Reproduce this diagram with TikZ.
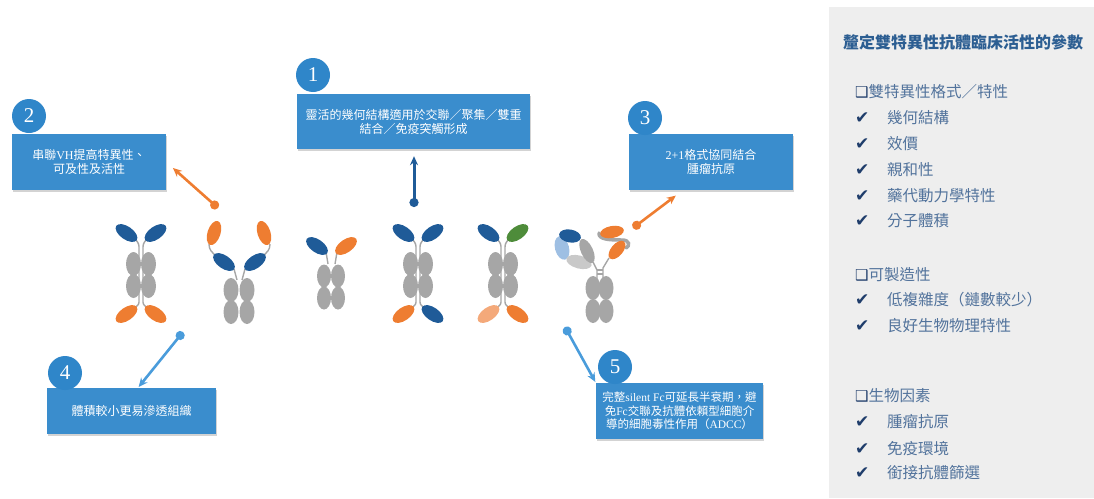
\documentclass[tikz,border=0pt]{standalone}
\usepackage{fontspec}
\setmainfont{Liberation Serif}
\newfontfamily\cjk{Noto Sans CJK TC}
\newfontfamily\sym{DejaVu Sans}
\usetikzlibrary{positioning,arrows.meta,shadows}
\definecolor{boxblue}{HTML}{3A8DCD}
\definecolor{numblue}{HTML}{2F86C9}
\definecolor{abblue}{HTML}{1F5B98}
\definecolor{ablblue}{HTML}{9EBFE3}
\definecolor{aborange}{HTML}{EE7D31}
\definecolor{ablorange}{HTML}{F4A97A}
\definecolor{abgreen}{HTML}{4E8C3A}
\definecolor{abgray}{HTML}{A6A6A6}
\definecolor{ablgray}{HTML}{C9C9C9}
\definecolor{ptrblue}{HTML}{4A9CDB}
\definecolor{panelgray}{HTML}{EEEEEE}
\definecolor{titlecol}{HTML}{2C5E92}
\definecolor{itemcol}{HTML}{52739C}
\definecolor{checkcol}{HTML}{1F3D6B}

\begin{document}
\begin{tikzpicture}[x=1pt,y=1pt,
  infobox/.style={fill=boxblue,text=white,font=\cjk\fontsize{12}{14}\selectfont,align=center,inner sep=0pt,
    drop shadow={shadow xshift=1pt,shadow yshift=-2pt,opacity=0.35}},
  numdot/.style={circle,fill=numblue,text=white,minimum size=34pt,inner sep=0pt,font=\fontsize{21}{21}\selectfont},
  pointer/.style={line width=2.6pt,{Circle[length=9pt]}-{Stealth[length=9pt,width=8pt]}},
  hinge/.style={abgray,line width=1.4pt},
  item/.style={anchor=west,text=itemcol,font=\cjk\fontsize{15.5}{15.5}\selectfont,inner sep=0pt},
  tick/.style={anchor=west,text=checkcol,font=\sym\fontsize{17}{17}\selectfont,inner sep=0pt}]
\useasboundingbox (0,0) rectangle (1094,-498);

% parameter panel
\fill[panelgray] (829,-7) rectangle (1094,-498);

% tandem formats
\foreach \cx/\ca/\cb/\cc/\cd in {141/abblue/abblue/aborange/aborange,418/abblue/abblue/aborange/abblue,503/abblue/abgreen/ablorange/aborange} {
  \draw[hinge] (\cx-5,-240) .. controls (\cx-2,-244) .. (\cx-2,-250) -- (\cx-2,-300) .. controls (\cx-2,-304) .. (\cx-5,-307);
  \draw[hinge] (\cx+5,-240) .. controls (\cx+2,-244) .. (\cx+2,-250) -- (\cx+2,-300) .. controls (\cx+2,-304) .. (\cx+5,-307);
  \fill[\ca,shift={(\cx-14.5,-233)},rotate=-35] (0,0) ellipse (12.5 and 6.5);
  \fill[\cb,shift={(\cx+14.5,-233)},rotate=35] (0,0) ellipse (12.5 and 6.5);
  \fill[abgray] (\cx-7.5,-264) ellipse (7.5 and 12);
  \fill[abgray] (\cx+7.5,-264) ellipse (7.5 and 12);
  \fill[abgray] (\cx-7.5,-286) ellipse (7.5 and 12);
  \fill[abgray] (\cx+7.5,-286) ellipse (7.5 and 12);
  \fill[\cc,shift={(\cx-14.5,-314)},rotate=35] (0,0) ellipse (12.5 and 6.5);
  \fill[\cd,shift={(\cx+14.5,-314)},rotate=-35] (0,0) ellipse (12.5 and 6.5);
}

% tandem VH
\draw[hinge] (209,-244) .. controls (209,-250) and (212,-252) .. (215,-255);
\draw[hinge] (270,-244) .. controls (270,-250) and (267,-252) .. (264,-255);
\draw[hinge] (234,-269) -- (237,-280);
\draw[hinge] (245,-269) -- (242,-280);
\fill[aborange,shift={(214,-233)},rotate=72] (0,0) ellipse (12.5 and 6.5);
\fill[aborange,shift={(264,-233)},rotate=108] (0,0) ellipse (12.5 and 6.5);
\fill[abblue,shift={(224,-262)},rotate=-35] (0,0) ellipse (12.5 and 6.5);
\fill[abblue,shift={(255,-262)},rotate=35] (0,0) ellipse (12.5 and 6.5);
\fill[abgray] (231,-290) ellipse (7.5 and 12);
\fill[abgray] (247,-290) ellipse (7.5 and 12);
\fill[abgray] (231,-312) ellipse (7.5 and 12);
\fill[abgray] (247,-312) ellipse (7.5 and 12);

% small format
\draw[hinge] (326,-252) -- (328,-264);
\draw[hinge] (337,-252) -- (335,-264);
\fill[abblue,shift={(317,-246)},rotate=-35] (0,0) ellipse (12.5 and 6.5);
\fill[aborange,shift={(346,-246)},rotate=35] (0,0) ellipse (12.5 and 6.5);
\fill[abgray] (324,-276) ellipse (7 and 11.5);
\fill[abgray] (338,-276) ellipse (7 and 11.5);
\fill[abgray] (324,-298) ellipse (7 and 11.5);
\fill[abgray] (338,-298) ellipse (7 and 11.5);

% 2+1 format
\draw[hinge] (593,-262) -- (597,-270) -- (597,-280);
\draw[hinge] (609,-258) -- (603,-268) -- (603,-280);
\draw[hinge] (597,-270) -- (603,-270);
\draw[hinge] (597,-274) -- (603,-274);
\fill[ablblue,shift={(562,-248)},rotate=-75] (0,0) ellipse (12 and 7);
\fill[abblue,shift={(570,-236)},rotate=-10] (0,0) ellipse (11 and 6.5);
\fill[ablgray,shift={(579,-262)},rotate=-15] (0,0) ellipse (13 and 6.5);
\fill[abgray,shift={(587,-251)},rotate=-65] (0,0) ellipse (13 and 6);
\draw[abgray,line width=3.5pt,line cap=round] (599,-233) .. controls (598,-240) and (612,-240) .. (622,-240) .. controls (630,-240) and (630,-246) .. (626,-248);
\fill[aborange,shift={(612,-232)},rotate=10] (0,0) ellipse (12 and 6);
\fill[aborange,shift={(617,-250)},rotate=50] (0,0) ellipse (11 and 6);
\fill[abgray] (593,-288) ellipse (7.5 and 12);
\fill[abgray] (606,-288) ellipse (7.5 and 12);
\fill[abgray] (593,-311) ellipse (7.5 and 12);
\fill[abgray] (606,-311) ellipse (7.5 and 12);

% info boxes
\node[infobox,minimum width=233pt,minimum height=55pt] (b1) at (413.5,-121.5) {靈活的幾何結構適用於交聯／聚集／雙重\\結合／免疫突觸形成};
\node[infobox,minimum width=154pt,minimum height=56pt] (b2) at (89,-162) {串聯{\rmfamily VH}提高特異性、\\可及性及活性};
\node[infobox,minimum width=164pt,minimum height=56pt] (b3) at (711,-162) {{\rmfamily 2+1}格式協同結合\\腫瘤抗原};
\node[infobox,minimum width=169pt,minimum height=46pt] (b4) at (131.5,-411) {體積較小更易滲透組織};
\node[infobox,minimum width=167pt,minimum height=56pt,font=\cjk\fontsize{11.5}{13.5}\selectfont] (b5) at (679.5,-411) {完整{\rmfamily silent Fc}可延長半衰期，避\\免{\rmfamily Fc}交聯及抗體依賴型細胞介\\導的細胞毒性作用（{\rmfamily ADCC}）};

\node[numdot] (n1) at (313,-75) {1};
\node[numdot] (n2) at (29,-116) {2};
\node[numdot] (n3) at (645,-118) {3};
\node[numdot] (n4) at (65,-373) {4};
\node[numdot] (n5) at (615,-367) {5};

% pointers
\coordinate (d1) at (414,-207);
\coordinate (d2) at (218,-208);
\coordinate (d3) at (633,-228);
\coordinate (d4) at (183,-332);
\coordinate (d5) at (565,-327);
\draw[pointer,abblue,line width=3pt,shorten >=7pt] (d1) -- (d1 |- b1.south);
\draw[pointer,aborange,shorten >=9pt] (d2) -- (b2.east);
\draw[pointer,aborange,shorten >=9pt] (d3) -- ([xshift=-28pt]b3.south);
\draw[pointer,ptrblue,shorten >=1pt] (d4) -- ([xshift=6.5pt]b4.north);
\draw[pointer,ptrblue,shorten >=1pt] (d5) -- (b5.north west);

% panel text
\node[anchor=west,text=titlecol,font=\cjk\bfseries\fontsize{16}{16}\selectfont,inner sep=0pt] (title) at (843,-42) {釐定雙特異性抗體臨床活性的參數};

\node[item] (h1) at (855,-92) {{\color{checkcol}\sym\fontsize{15}{15}\selectfont ❑}雙特異性格式／特性};
\foreach \y/\txt [count=\i] in {118/幾何結構,144/效價,170/親和性,196/藥代動力學特性,221/分子體積} {
  \node[tick] (c1\i) at (855,-\y) {✔};
  \node[item] (i1\i) at (887,-\y) {\txt};
}
\node[item] (h2) at (855,-275) {{\color{checkcol}\sym\fontsize{15}{15}\selectfont ❑}可製造性};
\foreach \y/\txt [count=\i] in {300/低複雜度（鏈數較少）,326/良好生物物理特性} {
  \node[tick] (c2\i) at (855,-\y) {✔};
  \node[item] (i2\i) at (887,-\y) {\txt};
}
\node[item] (h3) at (855,-396) {{\color{checkcol}\sym\fontsize{15}{15}\selectfont ❑}生物因素};
\foreach \y/\txt [count=\i] in {422/腫瘤抗原,449/免疫環境,473/銜接抗體篩選} {
  \node[tick] (c3\i) at (855,-\y) {✔};
  \node[item] (i3\i) at (887,-\y) {\txt};
}
\end{tikzpicture}
\end{document}
